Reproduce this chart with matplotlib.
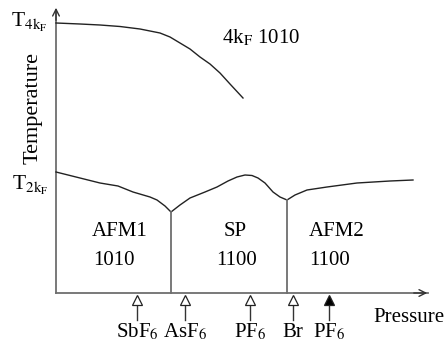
import matplotlib
matplotlib.use('Agg')
import matplotlib.pyplot as plt

plt.rcParams['font.family'] = ['Liberation Serif', 'DejaVu Serif']
plt.rcParams['mathtext.fontset'] = 'stix'

# 示意相图的数据（压力、温度为任意单位，原点在坐标轴交点）。
T4KF_P = [0, 24, 44, 64, 84, 104, 114, 124, 134, 144, 154, 164, 174, 187]
T4KF_T = [270, 269, 268, 266.5, 264, 260, 256, 250, 244, 236, 229, 220, 209, 195]

T2KF_P = [0, 24, 44, 62, 77, 94, 101, 109, 115, 124, 134, 149, 161, 172,
          181, 189, 196, 202, 209, 217, 224, 231, 239, 251, 271, 301, 334, 357]
T2KF_T = [121, 115, 110, 107, 101, 96, 93, 87, 81, 88, 95, 101, 106, 112,
          116, 118, 117.5, 115, 110, 101, 96, 93, 98, 103, 106, 110, 112, 113]

BOUNDARY_P = [115, 231]
BOUNDARY_T = [81, 93]

SALT_P = [81, 129, 194, 237, 273]
SALT_NAMES = [r'SbF$_6$', r'AsF$_6$', r'PF$_6$', 'Br', r'PF$_6$']
SALT_FILLED = [False, False, False, False, True]

PHASES = [('AFM1', '1010', 64, 58), ('SP', '1100', 179, 181), ('AFM2', '1100', 281, 274)]

AXIS_COLOR = '#6e6e6e'
LINE_COLOR = '#222222'
FS = 15

fig = plt.figure(figsize=(4.48, 3.52), dpi=100)
ax = fig.add_axes([0, 0, 1, 1])
# 坐标系与像素一一对应：原点在 (56, 293)。
ax.set_xlim(-56, 392)
ax.set_ylim(-59, 293)
ax.axis('off')

# 坐标轴及箭头。
ax.plot([0, 0], [0, 283], color=AXIS_COLOR, lw=1.3)
ax.plot([0, 372], [0, 0], color=AXIS_COLOR, lw=1.3)
ax.annotate('', xy=(0, 288), xytext=(0, 270),
            arrowprops=dict(arrowstyle='->', color='#333333', lw=1.0, mutation_scale=12))
ax.annotate('', xy=(374, 0), xytext=(355, 0),
            arrowprops=dict(arrowstyle='->', color='#333333', lw=1.0, mutation_scale=12))

# 相界线。
ax.plot(T4KF_P, T4KF_T, color=LINE_COLOR, lw=1.0)
ax.plot(T2KF_P, T2KF_T, color=LINE_COLOR, lw=1.0)
for p, t in zip(BOUNDARY_P, BOUNDARY_T):
    ax.plot([p, p], [0, t], color=AXIS_COLOR, lw=1.3)

# 各种盐对应的压力位置。
for p, name, filled in zip(SALT_P, SALT_NAMES, SALT_FILLED):
    ax.plot([p, p], [-27, -10], color='#333333', lw=1.0)
    ax.plot(p, -7, marker='^', markersize=7.5, markeredgewidth=0.9,
            markerfacecolor='black' if filled else 'white', markeredgecolor='#222222')
    ax.text(p, -44, name, ha='center', va='baseline', fontsize=FS)

# 相区标注。
for name, code, x1, x2 in PHASES:
    ax.text(x1, 57, name, ha='center', va='baseline', fontsize=FS)
    ax.text(x2, 28, code, ha='center', va='baseline', fontsize=FS)

ax.text(166, 250, r'4k$_{\mathrm{F}}$ 1010', ha='left', va='baseline', fontsize=FS)
ax.text(-45, 266, r'T$_{\mathrm{4k_F}}$', ha='left', va='baseline', fontsize=15.5)
ax.text(-44, 103, r'T$_{\mathrm{2k_F}}$', ha='left', va='baseline', fontsize=15.5)
ax.text(-23, 185, 'Temperature', rotation=90, ha='center', va='center', fontsize=16)
ax.text(317, -29, 'Pressure', ha='left', va='baseline', fontsize=FS)

fig.savefig('out.png', dpi=100)
